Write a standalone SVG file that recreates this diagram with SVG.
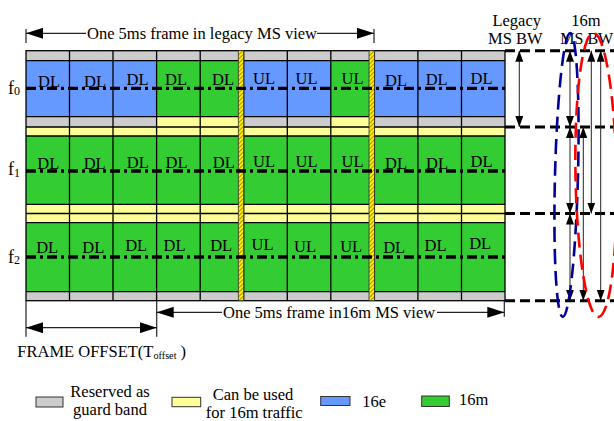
<svg xmlns="http://www.w3.org/2000/svg" width="614" height="421" viewBox="0 0 614 421">
<style>
text{font-family:"Liberation Serif","Times New Roman",serif;fill:#000}
.t{font-size:16.5px}
.c{font-size:16.5px;text-anchor:middle}
.grid{stroke:#000;stroke-width:1.3;fill:none}
.dd{stroke:#000;stroke-width:3.3;stroke-dasharray:10 4 3 4;fill:none}
.hd{stroke:#000;stroke-width:3;stroke-dasharray:10 5;fill:none}
.ar{stroke:#222;stroke-width:1.2;fill:none}
.va{stroke:#222;stroke-width:1;fill:none}
.ell{fill:none;stroke-width:2.6;stroke-dasharray:15 7}
</style>
<defs>
<pattern id="hatch" patternUnits="userSpaceOnUse" width="3" height="3" patternTransform="rotate(45)">
<rect width="3" height="3" fill="#FFEE00"/>
<line x1="0.5" y1="0" x2="0.5" y2="3" stroke="#A89400" stroke-width="1"/>
</pattern>
<marker id="ah" markerUnits="userSpaceOnUse" markerWidth="17" markerHeight="11" refX="17" refY="5.5" orient="auto-start-reverse"><path d="M0,0 L17,5.5 L0,11 Z" fill="#000"/></marker>
<marker id="av" markerUnits="userSpaceOnUse" markerWidth="11" markerHeight="8" refX="11" refY="4" orient="auto-start-reverse"><path d="M0,0 L11,4 L0,8 Z" fill="#000"/></marker>
</defs>

<g id="frame-grid">
<rect x="26" y="50.7" width="479" height="10" fill="#CCCCCC"/>
<rect x="26" y="60.7" width="479" height="56" fill="#6699FF"/>
<rect x="156.6" y="60.7" width="87.1" height="56" fill="#33CC33"/>
<rect x="330.8" y="60.7" width="43.6" height="56" fill="#33CC33"/>
<rect x="26" y="116.7" width="479" height="10.3" fill="#CCCCCC"/>
<rect x="156.6" y="116.7" width="87.1" height="10.3" fill="#FFFF99"/>
<rect x="330.8" y="116.7" width="43.6" height="10.3" fill="#FFFF99"/>
<rect x="26" y="127" width="479" height="9" fill="#FFFF99"/>
<rect x="26" y="136" width="479" height="68.3" fill="#33CC33"/>
<rect x="26" y="204.3" width="479" height="18.4" fill="#FFFF99"/>
<rect x="26" y="222.7" width="479" height="69" fill="#33CC33"/>
<rect x="26" y="291.7" width="479" height="9" fill="#CCCCCC"/>
<path class="grid" d="M26,60.7H505M26,116.7H505M26,127H505M26,136H505M26,204.3H505M26,213.5H505M26,222.7H505M26,291.7H505"/>
<path class="grid" d="M69.5,50.7V300.7M113,50.7V300.7M156.6,50.7V300.7M200.2,50.7V300.7M243.7,50.7V300.7M287.3,50.7V300.7M330.8,50.7V300.7M374.4,50.7V300.7M417.9,50.7V300.7M461.5,50.7V300.7"/>
<rect class="grid" x="26" y="50.7" width="479" height="250"/>
<rect x="238.3" y="50.7" width="5.4" height="250" fill="url(#hatch)" stroke="#333" stroke-width="0.8"/>
<rect x="369" y="50.7" width="5.4" height="250" fill="url(#hatch)" stroke="#333" stroke-width="0.8"/>
</g>

<g id="carriers">
<path class="dd" d="M26,88.3H507"/>
<path class="dd" d="M26,171H507"/>
<path class="dd" d="M26,257H507"/>
<text x="8" y="94" style="font-size:18px">f<tspan dy="1" style="font-size:12px">0</tspan></text>
<text x="8" y="175" style="font-size:18px">f<tspan dy="1.5" style="font-size:12px">1</tspan></text>
<text x="8" y="262.5" style="font-size:18px">f<tspan dy="1.5" style="font-size:12px">2</tspan></text>
</g>

<g id="row-f0-labels">
<text class="c" x="49" y="87.3">DL</text>
<text class="c" x="95" y="87.3">DL</text>
<text class="c" x="137.5" y="85">DL</text>
<text class="c" x="176" y="85.3">DL</text>
<text class="c" x="223" y="85.3">DL</text>
<text class="c" x="264" y="84">UL</text>
<text class="c" x="306.5" y="84">UL</text>
<text class="c" x="352.5" y="84">UL</text>
<text class="c" x="396" y="86">DL</text>
<text class="c" x="436.7" y="85.3">DL</text>
<text class="c" x="481.5" y="84">DL</text>
</g>
<g id="row-f1-labels">
<text class="c" x="48.3" y="169.3">DL</text>
<text class="c" x="94.7" y="169.3">DL</text>
<text class="c" x="137.8" y="167.7">DL</text>
<text class="c" x="176.5" y="167.7">DL</text>
<text class="c" x="223.8" y="167.7">DL</text>
<text class="c" x="264" y="166.7">UL</text>
<text class="c" x="306.5" y="166.7">UL</text>
<text class="c" x="352.5" y="166.7">UL</text>
<text class="c" x="396" y="169.3">DL</text>
<text class="c" x="437" y="169.3">DL</text>
<text class="c" x="481.5" y="167">DL</text>
</g>
<g id="row-f2-labels">
<text class="c" x="47.2" y="253.3">DL</text>
<text class="c" x="93.3" y="253.3">DL</text>
<text class="c" x="136.2" y="250.7">DL</text>
<text class="c" x="174.5" y="250.7">DL</text>
<text class="c" x="221.2" y="250.7">DL</text>
<text class="c" x="262.5" y="250">UL</text>
<text class="c" x="305" y="251.7">UL</text>
<text class="c" x="351.2" y="251.7">UL</text>
<text class="c" x="394.2" y="252.7">DL</text>
<text class="c" x="435.5" y="251">DL</text>
<text class="c" x="480.2" y="249.3">DL</text>
</g>

<g id="bw-labels">
<text class="c" x="516.7" y="25.7">Legacy</text>
<text class="c" x="515.3" y="44.3">MS BW</text>
<text class="c" x="586" y="25.7">16m</text>
<text x="560.3" y="44.3" style="font-size:16px">MS BW</text>
</g>

<g id="connectors">
<path class="ar" d="M26,29V43M374,29V43"/>
<path class="ar" d="M26,33.3H86" marker-start="url(#ah)"/>
<path class="ar" d="M317,33.3H374" marker-end="url(#ah)"/>
<text class="t" x="87" y="39">One 5ms frame in legacy MS view</text>

<path class="ar" d="M26,300.7V336.7M156.7,300.7V336.7M504.3,300.7V316.7"/>
<path class="ar" d="M156.7,312.3H222" marker-start="url(#ah)"/>
<path class="ar" d="M437,312.3H504.3" marker-end="url(#ah)"/>
<text class="t" x="223" y="317.5">One 5ms frame in16m MS view</text>
<path class="ar" d="M26,327.7H156.7" marker-start="url(#ah)" marker-end="url(#ah)"/>
<text class="t" x="17.3" y="357.3">FRAME OFFSET(T<tspan dy="1.3" style="font-size:10.2px">offset</tspan><tspan dy="-1.3"> )</tspan></text>

<path class="hd" d="M505,50.7H614M505,127H614M505,213.5H614M505,300.7H614"/>
<path class="va" d="M519.3,50.7V127" marker-start="url(#av)" marker-end="url(#av)"/>
<path class="va" d="M570,50.7V127" marker-start="url(#av)" marker-end="url(#av)"/>
<path class="va" d="M570,127V213.5" marker-start="url(#av)" marker-end="url(#av)"/>
<path class="va" d="M570,213.5V300.7" marker-start="url(#av)" marker-end="url(#av)"/>
<path class="va" d="M583.3,127V300.7" marker-start="url(#av)" marker-end="url(#av)"/>
<path class="va" d="M591.3,50.7V213.5" marker-start="url(#av)" marker-end="url(#av)"/>
<path class="va" d="M600.7,50.7V300.7" marker-start="url(#av)" marker-end="url(#av)"/>
<ellipse class="ell" cx="566.5" cy="175" rx="11.5" ry="142" stroke="#000099" transform="rotate(1.5 566.5 175)"/>
<ellipse class="ell" cx="596" cy="175" rx="20.5" ry="142" stroke="#FF0000" transform="rotate(-1 596 175)"/>
</g>

<g id="legend">
<rect x="36" y="397" width="27" height="10" fill="#CCCCCC" stroke="#333" stroke-width="1"/>
<text class="c" x="110" y="397.3">Reserved as</text>
<text class="c" x="110" y="415">guard band</text>
<rect x="172" y="397.3" width="28.7" height="9.4" fill="#FFFF99" stroke="#333" stroke-width="1"/>
<text class="c" x="253" y="400">Can be used</text>
<text class="c" x="254.2" y="418">for 16m traffic</text>
<rect x="320.7" y="396.5" width="29.3" height="9" fill="#6699FF" stroke="#333" stroke-width="1"/>
<text class="t" x="362.3" y="407">16e</text>
<rect x="421.7" y="396" width="27.6" height="10.5" fill="#33CC33" stroke="#333" stroke-width="1"/>
<text class="t" x="459" y="405">16m</text>
</g>
</svg>
